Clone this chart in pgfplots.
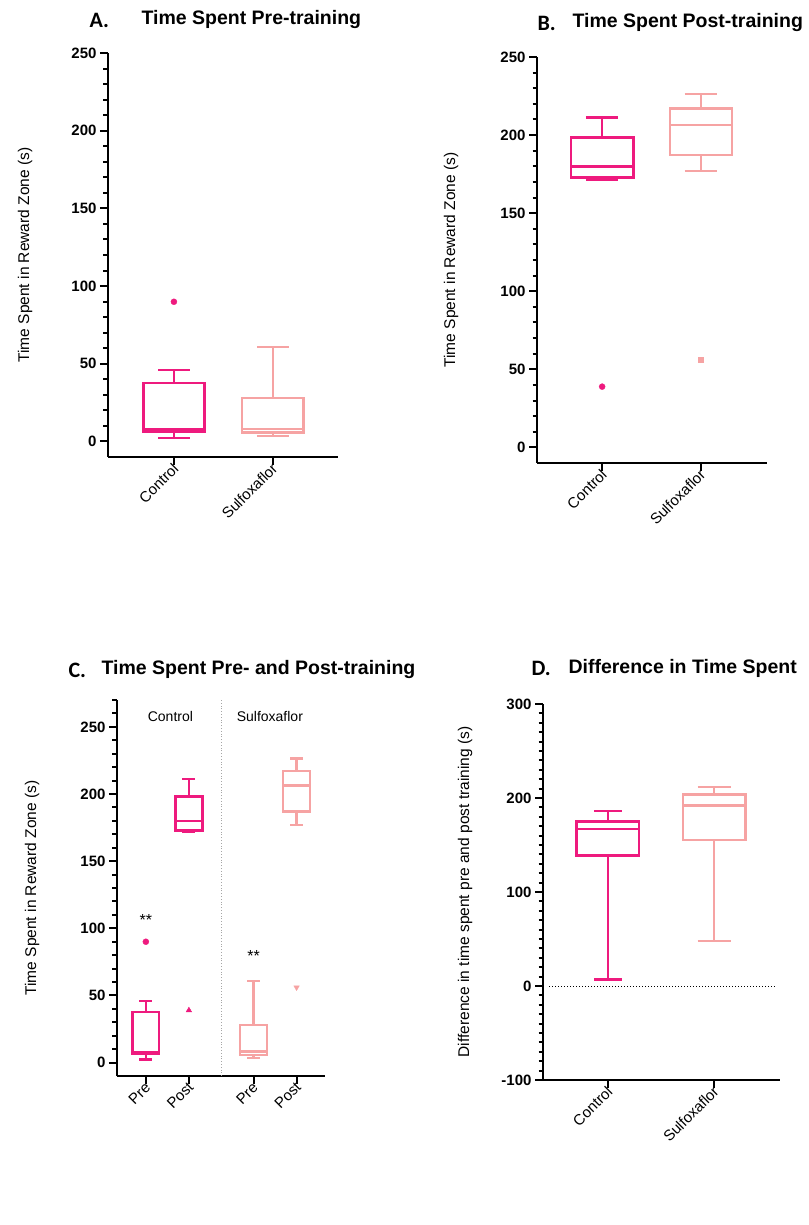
\documentclass[border=0pt]{standalone}
\usepackage{fontspec}
\setmainfont{Liberation Sans}
\newfontfamily\letterfont{Carlito}
\usepackage{pgfplots}
\usepgfplotslibrary{statistics}
\pgfplotsset{compat=1.18}
\definecolor{ctrl}{HTML}{EE1A7E}
\definecolor{sulf}{HTML}{F6A3A3}
\pgfplotsset{
  panel/.style={
    scale only axis,
    at={(0pt,0pt)},
    anchor=south west,
    axis lines=left,
    axis line style={-, line width=2.6pt, black},
    every tick/.style={black, line width=2pt},
    tick align=outside,
    major tick length=8pt,
    minor tick length=4.5pt,
    xtick pos=bottom, ytick pos=left,
    boxplot/draw direction=y,
    /pgf/number format/assume math mode=true,
    yticklabel style={font=\bfseries\fontsize{15}{15}\selectfont},
    xticklabel style={font=\fontsize{15}{15}\selectfont, rotate=45, anchor=east, xshift=4pt, yshift=-2pt},
    every axis y label/.style={at={(rel axis cs:0,0.5)}, rotate=90, anchor=center, font=\fontsize{15.5}{15.5}\selectfont},
    clip=false,
  },
  cbox/.style={draw=ctrl, line width=2.6pt, solid},
  sbox/.style={draw=sulf, line width=2.2pt, solid},
}
% origin of the picture at image pixel (404, 612); tikz y = 612 - image y
% category positions are 10, 20, ... (small x unit keeps TeX dimensions in range)
\begin{document}
\begin{tikzpicture}
\path[use as bounding box] (-404pt,-613pt) rectangle (404pt,612pt);

% Titles
\node[anchor=west, font=\letterfont\bfseries\fontsize{22}{22}\selectfont] at (-318pt,592pt) {A.};
\node[anchor=west, font=\bfseries\fontsize{19.5}{19.5}\selectfont] at (-266pt,592pt) {Time Spent Pre-training};
\node[anchor=west, font=\letterfont\bfseries\fontsize{22}{22}\selectfont] at (130pt,589pt) {B.};
\node[anchor=west, font=\bfseries\fontsize{19.5}{19.5}\selectfont] at (165pt,589pt) {Time Spent Post-training};
\node[anchor=west, font=\letterfont\bfseries\fontsize{22}{22}\selectfont] at (-339pt,-58pt) {C.};
\node[anchor=west, font=\bfseries\fontsize{19.5}{19.5}\selectfont] at (-306pt,-58pt) {Time Spent Pre- and Post-training};
\node[anchor=west, font=\letterfont\bfseries\fontsize{22}{22}\selectfont] at (124pt,-56pt) {D.};
\node[anchor=west, font=\bfseries\fontsize{19.5}{19.5}\selectfont] at (161pt,-56pt) {Difference in Time Spent};

% Panel A
\begin{scope}[shift={(-296pt,155pt)}]
\begin{axis}[panel, width=230pt, height=404pt,
  xmin=3.33, xmax=26.6, ymin=-10, ymax=250,
  ytick={0,50,100,150,200,250}, minor ytick={10,20,30,40,60,70,80,90,110,120,130,140,160,170,180,190,210,220,230,240},
  xtick={10,20}, xticklabels={Control,Sulfoxaflor},
  ylabel={Time Spent in Reward Zone (s)},
  every axis y label/.append style={yshift=83pt}]
\addplot[cbox, boxplot prepared={draw position=10, lower whisker=2.2, lower quartile=6.5, median=8, upper quartile=37.7, upper whisker=45.9, box extend=6.2, whisker extend=3.2}] coordinates {};
\addplot[sbox, boxplot prepared={draw position=20, lower whisker=3.7, lower quartile=5.8, median=8.2, upper quartile=28, upper whisker=60.8, box extend=6.2, whisker extend=3.2}] coordinates {};
\addplot[only marks, mark=*, mark size=3pt, ctrl] coordinates {(10,89.9)};
\end{axis}
\end{scope}

% Panel B
\begin{scope}[shift={(133pt,149pt)}]
\begin{axis}[panel, width=230pt, height=406pt,
  xmin=3.4, xmax=26.7, ymin=-10, ymax=250,
  ytick={0,50,100,150,200,250}, minor ytick={10,20,30,40,60,70,80,90,110,120,130,140,160,170,180,190,210,220,230,240},
  xtick={10,20}, xticklabels={Control,Sulfoxaflor},
  ylabel={Time Spent in Reward Zone (s)},
  every axis y label/.append style={yshift=86pt}]
\addplot[cbox, boxplot prepared={draw position=10, lower whisker=171.7, lower quartile=173, median=179.8, upper quartile=198.3, upper whisker=211.3, box extend=6.3, whisker extend=3.3}] coordinates {};
\addplot[sbox, boxplot prepared={draw position=20, lower whisker=176.8, lower quartile=187, median=206.4, upper quartile=217, upper whisker=226.4, box extend=6.3, whisker extend=3.3}] coordinates {};
\addplot[only marks, mark=*, mark size=3pt, ctrl] coordinates {(10,38.9)};
\addplot[only marks, mark=square*, mark size=2.6pt, sulf] coordinates {(20,56)};
\end{axis}
\end{scope}

% Panel C
\begin{scope}[shift={(-287pt,-464pt)}]
\begin{axis}[panel, width=208pt, height=376pt,
  xmin=3.3, xmax=51.6, ymin=-10, ymax=270,
  ytick={0,50,100,150,200,250}, minor ytick={10,20,30,40,60,70,80,90,110,120,130,140,160,170,180,190,210,220,230,240,260,270},
  xtick={10,20,35,45}, xticklabels={Pre,Post,Pre,Post},
  ylabel={Time Spent in Reward Zone (s)},
  every axis y label/.append style={yshift=85pt}]
\addplot[gray!70, dotted, line width=0.8pt] coordinates {(27.5,-10) (27.5,270)};
\addplot[cbox, boxplot prepared={draw position=10, lower whisker=2.2, lower quartile=6.5, median=8, upper quartile=37.7, upper whisker=45.9, box extend=6.2, whisker extend=3}] coordinates {};
\addplot[cbox, boxplot prepared={draw position=20, lower whisker=171.7, lower quartile=173, median=179.8, upper quartile=198.3, upper whisker=211.3, box extend=6.2, whisker extend=3}] coordinates {};
\addplot[sbox, boxplot prepared={draw position=35, lower whisker=3.7, lower quartile=5.8, median=8.2, upper quartile=28, upper whisker=60.8, box extend=6.2, whisker extend=3}] coordinates {};
\addplot[sbox, boxplot prepared={draw position=45, lower whisker=176.8, lower quartile=187, median=206.4, upper quartile=217, upper whisker=226.4, box extend=6.2, whisker extend=3}] coordinates {};
\addplot[only marks, mark=*, mark size=3pt, ctrl] coordinates {(10,90)};
\addplot[only marks, mark=triangle*, mark size=3.2pt, ctrl] coordinates {(20,38.9)};
\addplot[only marks, mark=triangle*, mark size=3.2pt, sulf, mark options={rotate=180}] coordinates {(45,56)};
\node[font=\fontsize{16}{16}\selectfont] at (axis cs:10,106) {**};
\node[font=\fontsize{16}{16}\selectfont] at (axis cs:35,79) {**};
\node[font=\fontsize{14}{14}\selectfont] at (axis cs:15.7,258) {Control};
\node[font=\fontsize{14}{14}\selectfont] at (axis cs:38.8,258) {Sulfoxaflor};
\end{axis}
\end{scope}

% Panel D
\begin{scope}[shift={(139pt,-468pt)}]
\begin{axis}[panel, width=237pt, height=376pt,
  xmin=3.9, xmax=26.2, ymin=-100, ymax=300,
  ytick={-100,0,100,200,300}, yticklabels={-100,0,100,200,300},
  minor ytick={-90,-80,-70,-60,-50,-40,-30,-20,-10,10,20,30,40,50,60,70,80,90,110,120,130,140,150,160,170,180,190,210,220,230,240,250,260,270,280,290},
  xtick={10,20}, xticklabels={Control,Sulfoxaflor},
  ylabel={Difference in time spent pre and post training (s)},
  every axis y label/.append style={yshift=78pt}]
\addplot[black, dotted, line width=1pt] coordinates {(4.5,0) (25.8,0)};
\addplot[cbox, boxplot prepared={draw position=10, lower whisker=7.1, lower quartile=138.8, median=167, upper quartile=175, upper whisker=186, box extend=5.9, whisker extend=2.6}] coordinates {};
\addplot[sbox, boxplot prepared={draw position=20, lower whisker=48.3, lower quartile=155.5, median=192, upper quartile=203.7, upper whisker=211.5, box extend=5.9, whisker extend=3.1}] coordinates {};
\end{axis}
\end{scope}
\end{tikzpicture}
\end{document}
